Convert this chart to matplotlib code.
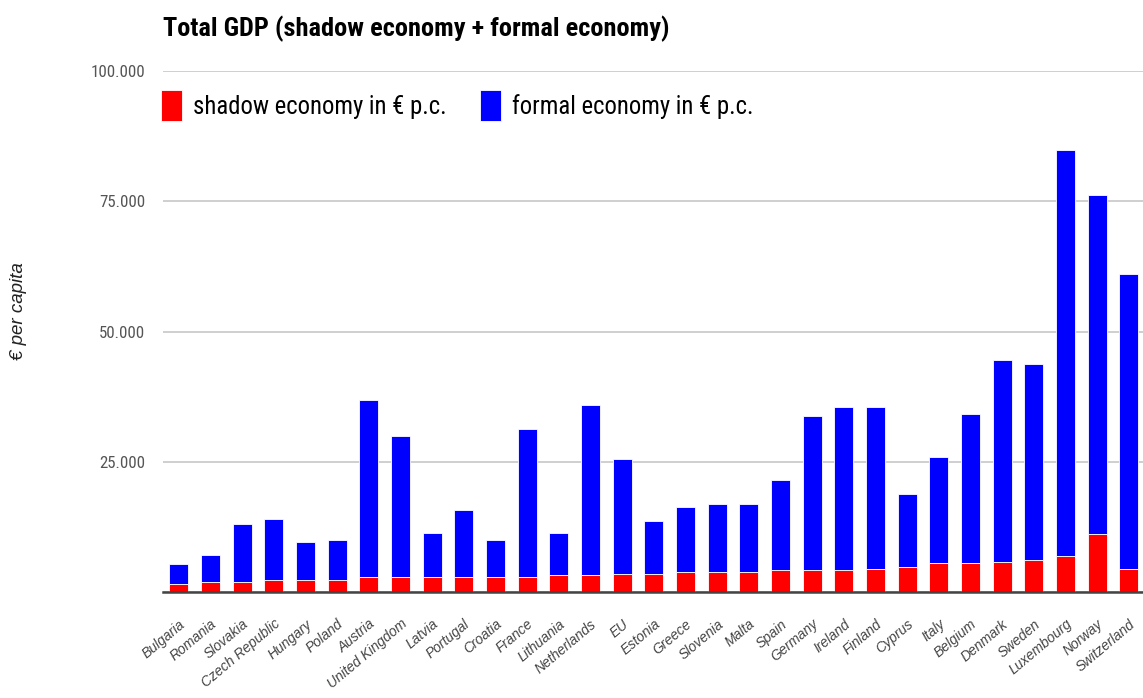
import numpy as np
import matplotlib.pyplot as plt
from matplotlib import font_manager
from matplotlib.ticker import FuncFormatter

# ===============================
# DATA (€ per capita)
# ===============================
countries = ["Bulgaria", "Romania", "Slovakia", "Czech Republic", "Hungary",
             "Poland", "Austria", "United Kingdom", "Latvia", "Portugal",
             "Croatia", "France", "Lithuania", "Netherlands", "EU", "Estonia",
             "Greece", "Slovenia", "Malta", "Spain", "Germany", "Ireland",
             "Finland", "Cyprus", "Italy", "Belgium", "Denmark", "Sweden",
             "Luxembourg", "Norway", "Switzerland"]

shadow = [1600, 2000, 1950, 2250, 2250, 2250, 2880, 2880, 2880, 2880,
          2880, 2880, 3200, 3200, 3530, 3530, 3840, 3840, 3840, 4160,
          4160, 4160, 4480, 4800, 5570, 5570, 5800, 6080, 6850, 11200, 4490]

total = [5450, 7100, 13000, 14000, 9670, 10050, 36800, 29900, 11300, 15700,
         10050, 31200, 11300, 35800, 25500, 13600, 16300, 16970, 16970, 21570,
         33850, 35500, 35500, 18880, 25900, 34200, 44470, 43830, 84800, 76130, 60970]

formal = [t - s for t, s in zip(total, shadow)]

yticks = [0, 25000, 50000, 75000, 100000]

# ===============================
# FONTS: look for a narrow face, else shrink the regular one
# ===============================
names = {f.name for f in font_manager.fontManager.ttflist}
stretches = {(f.name, f.stretch) for f in font_manager.fontManager.ttflist}
narrow = None
for cand in ["Liberation Sans Narrow", "Arial Narrow", "Roboto Condensed",
             "Open Sans Condensed", "Noto Sans Condensed"]:
    if cand in names:
        narrow = dict(family=[cand, "DejaVu Sans"])
        scale = 1.0
        break
if narrow is None:
    if any(n == "Roboto" and s in ("condensed", 75) for n, s in stretches):
        narrow = dict(family=["Roboto"], stretch="condensed")
        scale = 0.97
    elif any(n == "DejaVu Sans" and s in ("condensed", 87.5) for n, s in stretches):
        narrow = dict(family=["DejaVu Sans"], stretch="condensed")
        scale = 0.86
    else:
        narrow = dict(family=["Liberation Sans", "DejaVu Sans"])
        scale = 0.84

plain = ["Liberation Sans", "DejaVu Sans"]

# ===============================
# FIGURE
# ===============================
fig = plt.figure(figsize=(11.43, 6.98), dpi=100)
ax = fig.add_axes([163 / 1143, 106 / 698, 980 / 1143, 521 / 698])

x = np.arange(len(countries))
b1 = ax.bar(x, shadow, width=0.6, color="#ff0000", edgecolor="white",
            linewidth=0.6, label="shadow economy in € p.c.", zorder=3)
b2 = ax.bar(x, formal, bottom=shadow, width=0.6, color="#0000ff",
            edgecolor="white", linewidth=0.6, label="formal economy in € p.c.",
            zorder=3)

ax.set_xlim(-0.5, len(countries) - 1 + 0.45)
ax.set_ylim(0, 100000)
ax.set_yticks(yticks)
ax.yaxis.set_major_formatter(FuncFormatter(
    lambda v, p: "" if v == 0 else f"{v:,.0f}".replace(",", ".")))
ax.grid(axis="y", color="#cccccc", linewidth=1.3, zorder=0)

for s in ["top", "right", "left"]:
    ax.spines[s].set_visible(False)
ax.spines["bottom"].set_color("#444444")
ax.spines["bottom"].set_linewidth(1.8)
ax.spines["bottom"].set_zorder(4)

ax.tick_params(axis="y", length=0, pad=13, labelcolor="#555555")
for lab in ax.get_yticklabels():
    lab.set_fontfamily(narrow["family"])
    if "stretch" in narrow:
        lab.set_fontstretch(narrow["stretch"])
    lab.set_fontsize(12.2 * scale)

ax.set_xticks(x)
ax.set_xticklabels(countries, rotation=40, ha="right", va="top",
                   rotation_mode="anchor", fontsize=10, fontstyle="italic",
                   color="#444444", fontfamily=plain)
ax.tick_params(axis="x", length=0, pad=18)

fig.text(163 / 1143, 1 - 29 / 698, "Total GDP (shadow economy + formal economy)",
         fontsize=19 * scale, fontweight="bold", va="center", ha="left", **narrow)

fig.text(19 / 1143, 1 - 311 / 698, "€ per capita", rotation=90, fontsize=13.5,
         fontstyle="italic", color="#222222", family=plain,
         ha="center", va="center")

prop = font_manager.FontProperties(size=17.8 * scale, **narrow)
fig.legend(handles=[b1, b2], loc="upper left",
           bbox_to_anchor=(161 / 1143, 1 - 90 / 698), ncol=2,
           frameon=False, prop=prop,
           handlelength=0.85, handleheight=1.55, handletextpad=0.45,
           columnspacing=1.35, borderpad=0, borderaxespad=0)

plt.savefig("out.png", dpi=100)
